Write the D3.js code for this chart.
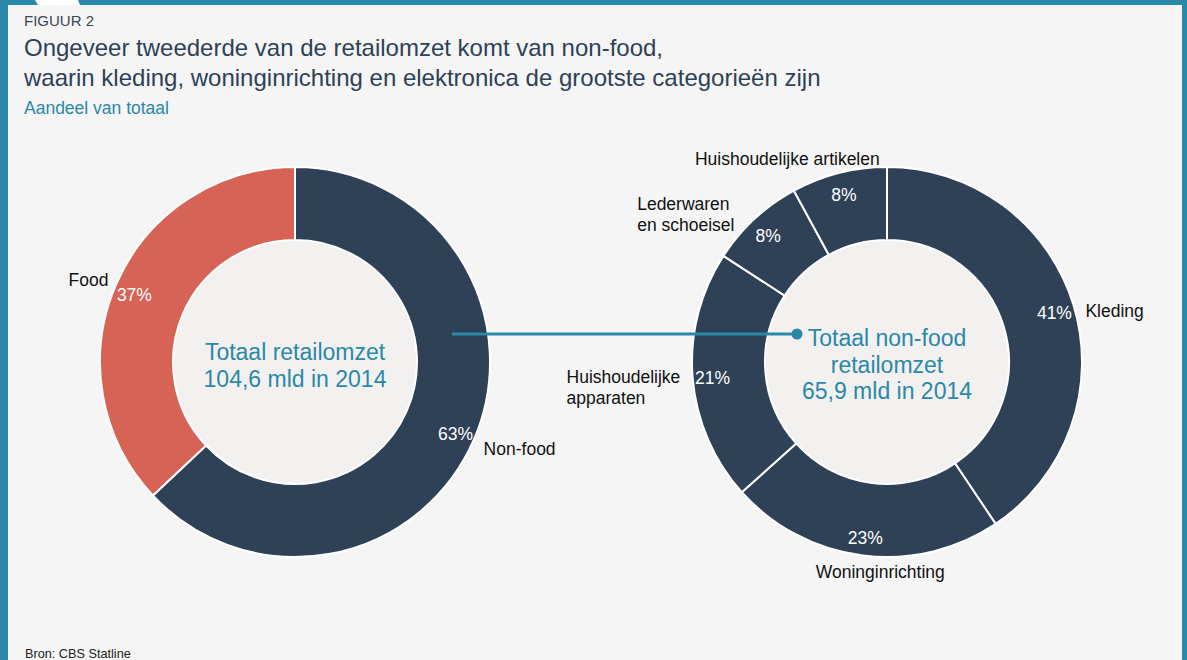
<!DOCTYPE html>
<html>
<head>
<meta charset="utf-8">
<script src="https://cdn.jsdelivr.net/npm/d3@7"></script>
<style>
  body { margin: 0; background: #f5f5f5; }
  svg { display: block; font-family: "Liberation Sans", Arial, sans-serif; }
</style>
</head>
<body>
<svg id="chart" width="1187" height="660"></svg>
<script>
// Data
var totalCategories = ["Non-food", "Food"];
var totalValues = [63, 37];
var nonfoodCategories = ["Kleding", "Woninginrichting", "Huishoudelijke apparaten", "Lederwaren en schoeisel", "Huishoudelijke artikelen"];
var nonfoodValues = [41, 23, 21, 8, 8];
// labels as shown (line breaks)
var nonfoodLabels = [["Kleding"], ["Woninginrichting"], ["Huishoudelijke", "apparaten"], ["Lederwaren", "en schoeisel"], ["Huishoudelijke artikelen"]];
var totalLabels = [["Non-food"], ["Food"]];
var centerLeft = ["Totaal retailomzet", "104,6 mld in 2014"];
var centerRight = ["Totaal non-food", "retailomzet", "65,9 mld in 2014"];

var navy = "#2e4157", red = "#d66355", teal = "#2a88a8";

var svg = d3.select("#chart"),
    width = +svg.attr("width"),
    height = +svg.attr("height");

// frame
svg.append("rect").attr("width", width).attr("height", height).attr("fill", teal);
svg.append("rect").attr("x", 8).attr("y", 5).attr("width", width - 13).attr("height", height - 5).attr("fill", "#f5f5f5");
svg.append("path").attr("d", "M35,0 L78,0 L80,5 L38,5 Z").attr("fill", "#ffffff");

// header
svg.append("text").attr("x", 24).attr("y", 26).attr("font-size", 15).attr("fill", "#3a4656").text("FIGUUR 2");
svg.append("text").attr("x", 24).attr("y", 56).attr("font-size", 24).attr("fill", "#2e4157")
  .text("Ongeveer tweederde van de retailomzet komt van non-food,");
svg.append("text").attr("x", 24).attr("y", 86).attr("font-size", 24).attr("fill", "#2e4157")
  .text("waarin kleding, woninginrichting en elektronica de grootste categorieën zijn");
svg.append("text").attr("x", 24).attr("y", 114).attr("font-size", 17.5).attr("fill", teal).text("Aandeel van totaal");
svg.append("text").attr("x", 25).attr("y", 658).attr("font-size", 12.7).attr("fill", "#222").text("Bron: CBS Statline");

var outerR = 195, innerR = 122, labelR = 175;
var pie = d3.pie().sort(null).value(function(d) { return d.value; });
var arc = d3.arc().innerRadius(innerR).outerRadius(outerR);
var labelArc = d3.arc().innerRadius(labelR).outerRadius(labelR);

// offsets of the category label relative to the percentage label
var labelLayout = {
  "Non-food": [28, 15, "start"],
  "Food": [-26, -15, "end"],
  "Kleding": [31, -2, "start"],
  "Woninginrichting": [15, 34, "middle"],
  "Huishoudelijke apparaten": [-146, -1, "start"],
  "Lederwaren en schoeisel": [-131, -32, "start"],
  "Huishoudelijke artikelen": [-149, -36, "start"]
};

function donut(cx, cy, cats, vals, labels, colors, center, centerY) {
  var data = cats.map(function(c, i) { return {name: c, value: vals[i], lines: labels[i], color: colors[i]}; });
  var g = svg.append("g").attr("transform", "translate(" + cx + "," + cy + ")");

  g.append("circle").attr("r", innerR).attr("fill", "#f2f1f0");

  var slices = g.selectAll("g.slice").data(pie(data)).enter().append("g").attr("class", "slice");
  slices.append("path")
    .attr("d", arc)
    .attr("fill", function(d) { return d.data.color; })
    .attr("stroke", "#ffffff")
    .attr("stroke-width", 2);

  slices.append("text")
    .attr("transform", function(d) { var p = labelArc.centroid(d); return "translate(" + p[0] + "," + (p[1] + 2) + ")"; })
    .attr("text-anchor", "middle")
    .attr("dy", "0.35em")
    .attr("font-size", 17.5)
    .attr("fill", "#ffffff")
    .text(function(d) { return d.data.value + "%"; });

  slices.append("text")
    .attr("transform", function(d) {
      var p = labelArc.centroid(d), o = labelLayout[d.data.name];
      return "translate(" + (p[0] + o[0]) + "," + (p[1] + 2 + o[1]) + ")";
    })
    .attr("text-anchor", function(d) { return labelLayout[d.data.name][2]; })
    .attr("font-size", 17.5)
    .attr("fill", "#111")
    .each(function(d) {
      var t = d3.select(this);
      d.data.lines.forEach(function(l, i) {
        t.append("tspan").attr("x", 0).attr("dy", i == 0 ? "0.35em" : "1.23em").text(l);
      });
    });

  var ct = g.append("text").attr("text-anchor", "middle").attr("font-size", 23).attr("fill", teal);
  center.forEach(function(l, i) {
    ct.append("tspan").attr("x", 0).attr("y", centerY + i * 26.5).text(l);
  });
  return g;
}

var lx = 295, rx = 887, cy = 362;
donut(lx, cy, totalCategories, totalValues, totalLabels, [navy, red], centerLeft, -2);
donut(rx, cy, nonfoodCategories, nonfoodValues, nonfoodLabels, [navy, navy, navy, navy, navy], centerRight, -16);

// connector line
svg.append("line").attr("x1", 452).attr("x2", 797).attr("y1", 334).attr("y2", 334)
  .attr("stroke", teal).attr("stroke-width", 3);
svg.append("circle").attr("cx", 797).attr("cy", 334).attr("r", 5.5).attr("fill", teal);
</script>
</body>
</html>
